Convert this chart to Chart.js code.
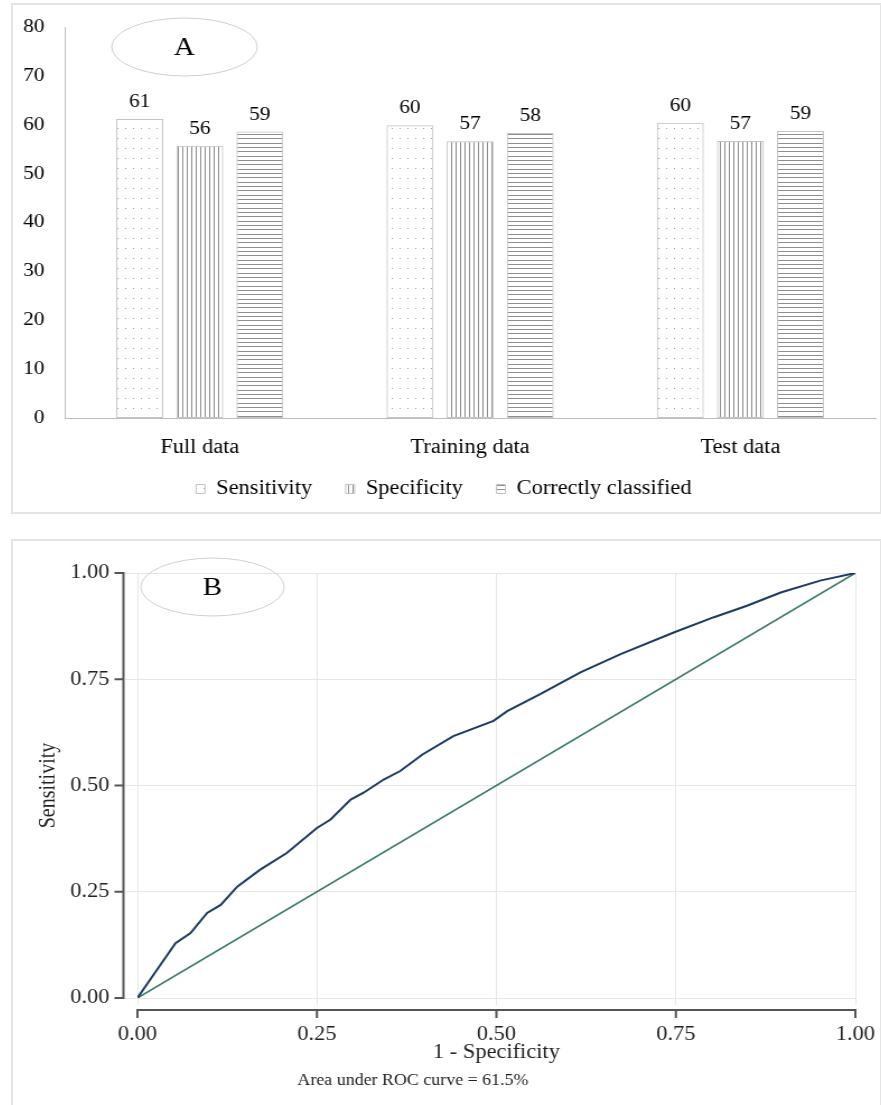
<!DOCTYPE html>
<html>
<head>
<meta charset="utf-8">
<script src="https://cdn.jsdelivr.net/npm/chart.js@4/dist/chart.umd.min.js"></script>
<style>
  body { margin: 0; background: #fff; width: 881px; height: 1105px; overflow: hidden; position: relative; }
  .panel { position: absolute; box-sizing: border-box; border: 2px solid #e4e4e4; }
  /* the source figure is stretched sideways, so each chart is drawn narrow and widened */
  .wrap { position: absolute; transform: scaleX(1.12); transform-origin: 0 0; }
</style>
</head>
<body>
<div class="panel" style="left:11px;top:3px;width:871px;height:511px"></div>
<div class="panel" style="left:11px;top:539px;width:871px;height:600px"></div>
<div class="wrap" style="left:12px;top:4px;width:776px;height:509px"><canvas id="chartA"></canvas></div>
<div class="wrap" style="left:12px;top:540px;width:776px;height:565px"><canvas id="chartB"></canvas></div>
<script>
// panel A: bars
const groups      = ['Full data', 'Training data', 'Test data'];
const sensitivity = [61.2, 59.9, 60.4];
const specificity = [55.7, 56.6, 56.7];
const correctly   = [58.6, 58.3, 58.7];

// panel B: ROC curve (1 - specificity, sensitivity)
const rocFpr = [0, 0.027, 0.053, 0.074, 0.097, 0.116, 0.139, 0.171, 0.208, 0.25, 0.269, 0.297, 0.315, 0.343,
                0.366, 0.397, 0.44, 0.496, 0.515, 0.561, 0.617, 0.673, 0.747, 0.803, 0.849, 0.896, 0.951, 1];
const rocTpr = [0, 0.066, 0.129, 0.153, 0.2, 0.219, 0.262, 0.302, 0.341, 0.40, 0.42, 0.467, 0.483, 0.514,
                0.534, 0.573, 0.616, 0.652, 0.675, 0.715, 0.766, 0.809, 0.86, 0.896, 0.923, 0.954, 0.982, 1];
const refLine  = [0, 1];
const rocTicks = [0, 0.25, 0.5, 0.75, 1];

const SERIF = 'Liberation Serif';

function makePattern(kind) {
  const c = document.createElement('canvas');
  const g = c.getContext('2d');
  if (kind === 'dots') {
    c.width = 7; c.height = 10;
    g.fillStyle = '#a0a0a0';
    g.fillRect(3, 4, 1, 1);
  } else if (kind === 'vlines') {
    c.width = 12; c.height = 4;
    g.fillStyle = '#8e8e8e';
    [0, 4, 8].forEach(x => g.fillRect(x, 0, 1, 4));
  } else {
    c.width = 4; c.height = 13;
    g.fillStyle = '#8e8e8e';
    [0, 4, 9].forEach(y => g.fillRect(0, y, 4, 1));
  }
  return g.createPattern(c, 'repeat');
}

function ellipseLabel(id, cx, cy, rx, ry, letter) {
  return {
    id: id,
    afterDraw(chart) {
      const c = chart.ctx;
      c.save();
      c.beginPath();
      c.ellipse(cx, cy, rx, ry, 0, 0, Math.PI * 2);
      c.strokeStyle = '#cfcfcf';
      c.lineWidth = 1;
      c.stroke();
      c.fillStyle = '#000';
      c.font = '26px ' + SERIF;
      c.textAlign = 'center';
      c.textBaseline = 'middle';
      c.fillText(letter, cx, cy + 1);
      c.restore();
    }
  };
}

// keep tick labels from pushing the plot area in
function noEdgePadding(s) { s.paddingTop = 0; s.paddingBottom = 0; s.paddingLeft = 0; s.paddingRight = 0; }

const barDefaults = { borderColor: '#c4c4c4', borderWidth: 1, borderSkipped: false };

new Chart(document.getElementById('chartA'), {
  type: 'bar',
  data: {
    labels: groups,
    datasets: [
      Object.assign({ label: 'Sensitivity', data: sensitivity, backgroundColor: makePattern('dots') }, barDefaults),
      Object.assign({ label: 'Specificity', data: specificity, backgroundColor: makePattern('vlines') }, barDefaults),
      Object.assign({ label: 'Correctly classified', data: correctly, backgroundColor: makePattern('hlines') }, barDefaults)
    ]
  },
  options: {
    responsive: true,
    maintainAspectRatio: false,
    animation: false,
    categoryPercentage: 0.667,
    barPercentage: 0.78,
    layout: { padding: { top: 23, right: 5, left: 0, bottom: 4 } },
    plugins: {
      tooltip: { enabled: false },
      legend: {
        position: 'bottom',
        labels: {
          boxWidth: 8, boxHeight: 9, padding: 20,
          color: '#000', font: { family: SERIF, size: 20 },
          generateLabels(chart) {
            const items = Chart.defaults.plugins.legend.labels.generateLabels(chart);
            items.forEach((it, i) => { if (i < items.length - 1) it.text += '  '; });
            return items;
          }
        }
      }
    },
    scales: {
      x: {
        grid: { display: false, drawTicks: false },
        border: { display: true, color: '#bdbdbd' },
        ticks: { color: '#000', font: { family: SERIF, size: 20 }, padding: 18 },
        afterFit(s) { s.height = 41; }
      },
      y: {
        min: 0, max: 80,
        grid: { display: false, drawTicks: false },
        border: { display: true, color: '#bdbdbd' },
        ticks: { stepSize: 10, color: '#000', font: { family: SERIF, size: 19 }, padding: 18 },
        afterFit(s) { s.width = 47; noEdgePadding(s); }
      }
    }
  },
  plugins: [{
    id: 'barValues',
    afterDatasetsDraw(chart) {
      const c = chart.ctx;
      c.save();
      c.fillStyle = '#000';
      c.font = '19px ' + SERIF;
      c.textAlign = 'center';
      c.textBaseline = 'alphabetic';
      chart.data.datasets.forEach((ds, i) => {
        chart.getDatasetMeta(i).data.forEach((bar, idx) => {
          c.fillText(Math.round(ds.data[idx]), bar.x, bar.y - 12);
        });
      });
      c.restore();
    }
  }, ellipseLabel('ellA', 154, 43, 65, 29, 'A')]
});

const gridGray  = '#e6e6e6';
const tickFontB = { family: SERIF, size: 20 };

new Chart(document.getElementById('chartB'), {
  type: 'scatter',
  data: {
    datasets: [
      {
        label: 'ROC',
        data: rocFpr.map((v, i) => ({ x: v, y: rocTpr[i] })),
        showLine: true, pointRadius: 0, borderColor: '#1e3a62', borderWidth: 2, tension: 0
      },
      {
        label: 'Reference',
        data: refLine.map(v => ({ x: v, y: v })),
        showLine: true, pointRadius: 0, borderColor: '#3a7a68', borderWidth: 1.6
      }
    ]
  },
  options: {
    responsive: true,
    maintainAspectRatio: false,
    animation: false,
    layout: { padding: { top: 33, right: 23, left: 0, bottom: 0 } },
    plugins: { legend: { display: false }, tooltip: { enabled: false } },
    scales: {
      x: {
        type: 'linear', min: 0, max: 1,
        afterBuildTicks(s) { s.ticks = rocTicks.map(v => ({ value: v })); },
        grid: { color: gridGray, tickColor: gridGray, tickLength: 7 },
        border: { display: false },
        ticks: { color: '#222', font: tickFontB, padding: 18, callback: v => v.toFixed(2) },
        title: { display: true, text: '1 - Specificity', color: '#222', font: tickFontB, padding: { top: 0, bottom: 40 } },
        afterFit(s) { s.height = 107; noEdgePadding(s); }
      },
      y: {
        type: 'linear', min: 0, max: 1,
        afterBuildTicks(s) { s.ticks = rocTicks.map(v => ({ value: v })); },
        grid: { color: gridGray, tickColor: gridGray, tickLength: 11 },
        border: { display: false },
        ticks: { color: '#222', font: tickFontB, padding: 14, callback: v => v.toFixed(2) },
        title: { display: true, text: 'Sensitivity', color: '#222', font: tickFontB, padding: { top: 21, bottom: 0 } },
        afterFit(s) { s.width = 112; noEdgePadding(s); }
      }
    }
  },
  plugins: [{
    id: 'offsetAxes',
    afterDraw(chart) {
      const c = chart.ctx;
      const { x, y } = chart.scales;
      const area = chart.chartArea;
      c.save();
      c.strokeStyle = '#555';
      c.lineWidth = 2;
      const ax = area.left - 12.5;
      c.beginPath();
      c.moveTo(ax, y.getPixelForValue(1) - 1);
      c.lineTo(ax, y.getPixelForValue(0) + 1);
      rocTicks.forEach(t => {
        const py = y.getPixelForValue(t);
        c.moveTo(ax + 1, py);
        c.lineTo(ax - 8, py);
      });
      const ay = area.bottom + 12;
      c.moveTo(x.getPixelForValue(0) - 1, ay);
      c.lineTo(x.getPixelForValue(1) + 1, ay);
      rocTicks.forEach(t => {
        const px = x.getPixelForValue(t);
        c.moveTo(px, ay - 1);
        c.lineTo(px, ay + 8);
      });
      c.stroke();
      c.fillStyle = '#222';
      c.font = '16px ' + SERIF;
      c.textAlign = 'center';
      c.textBaseline = 'middle';
      c.fillText('Area under ROC curve = 61.5%', area.left + 246, area.bottom + 83);
      c.restore();
    }
  }, ellipseLabel('ellB', 179, 47, 64, 29, 'B')]
});
</script>
</body>
</html>
